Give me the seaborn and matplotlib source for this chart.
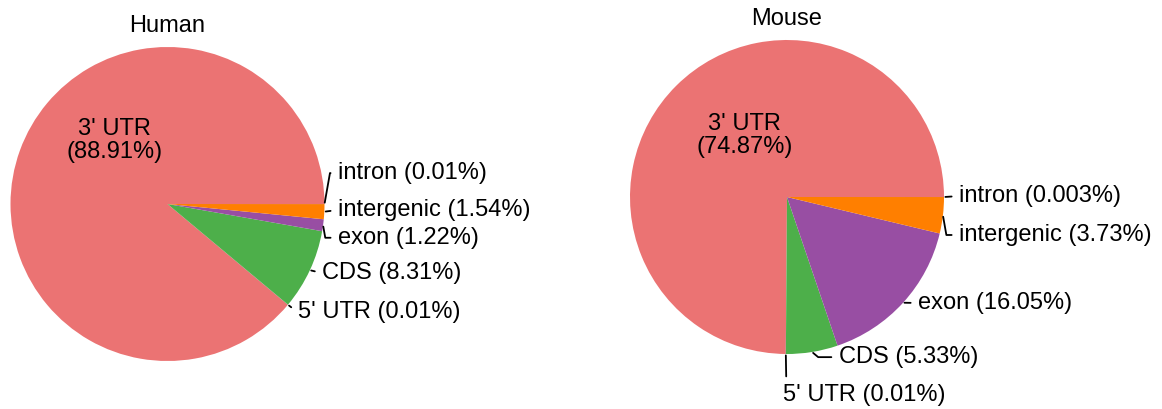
import matplotlib
matplotlib.use("Agg")
import numpy as np
import matplotlib.pyplot as plt
import seaborn as sns

# data
categories = ["3' UTR", "5' UTR", "CDS", "exon", "intergenic", "intron"]
human_pct = [88.91, 0.01, 8.31, 1.22, 1.54, 0.01]
mouse_pct = [74.87, 0.01, 5.33, 16.05, 3.73, 0.003]
species = ["Human", "Mouse"]

sns.set_theme(style="white")
plt.rcParams['font.family'] = ['Liberation Sans', 'DejaVu Sans']
plt.rcParams['text.color'] = 'black'

set1 = sns.color_palette("Set1")
colors = ["#EB7373", set1[1], set1[2], set1[3], set1[4], set1[6]]

# label placement (data units, pie radius = 1)
label_pos = {
    "Human": {
        "3' UTR": (-0.34, 0.405),
        "5' UTR": (0.83, -0.69),
        "CDS": (0.985, -0.44),
        "exon": (1.086, -0.215),
        "intergenic": (1.086, -0.038),
        "intron": (1.086, 0.197),
    },
    "Mouse": {
        "3' UTR": (-0.27, 0.39),
        "5' UTR": (-0.025, -1.19),
        "CDS": (0.33, -1.02),
        "exon": (0.835, -0.675),
        "intergenic": (1.096, -0.242),
        "intron": (1.096, 0.006),
    },
}
conn = {
    "Human": {"intron": "angle,angleA=0,angleB=80", "exon": "angle,angleA=0,angleB=100"},
    "Mouse": {"intergenic": "angle,angleA=0,angleB=100", "CDS": "angle,angleA=0,angleB=-40"},
}
centers = {"Human": (167.5, 204), "Mouse": (787, 197)}
radius_px = 157
FS = 17

W, H = 1162, 409
fig = plt.figure(figsize=(W / 100, H / 100), dpi=100)

for name, values in zip(species, [human_pct, mouse_pct]):
    cx, cy = centers[name]
    ax = fig.add_axes([(cx - radius_px) / W, (H - cy - radius_px) / H,
                       2 * radius_px / W, 2 * radius_px / H])
    wedges, _ = ax.pie(values, colors=colors, startangle=0, counterclock=True,
                       radius=1, wedgeprops=dict(linewidth=0))
    ax.set_xlim(-1, 1)
    ax.set_ylim(-1, 1)
    ax.axis('off')
    ax.set_title(name, fontsize=FS, pad=11, color='black')

    for w, cat, pct in zip(wedges, categories, values):
        pos = label_pos[name][cat]
        if cat == "3' UTR":
            ax.text(pos[0], pos[1], f"{cat}\n({pct:g}%)", ha='center', va='center',
                    fontsize=FS, linespacing=1.05)
            continue
        ang = np.deg2rad((w.theta1 + w.theta2) / 2)
        xy = (np.cos(ang), np.sin(ang))
        va, rp = 'center', (0, 0.5)
        if name == "Mouse" and cat == "5' UTR":
            va, rp = 'top', (0.02, 1)
        cs = conn[name].get(cat, "arc3")
        ax.annotate(f"{cat} ({pct:g}%)", xy=xy, xytext=pos, ha='left', va=va,
                    fontsize=FS, annotation_clip=False,
                    arrowprops=dict(arrowstyle='-', color='black', lw=1.3,
                                    connectionstyle=cs, relpos=rp,
                                    shrinkA=3, shrinkB=1))

fig.savefig("out.png", dpi=100, facecolor="white")
